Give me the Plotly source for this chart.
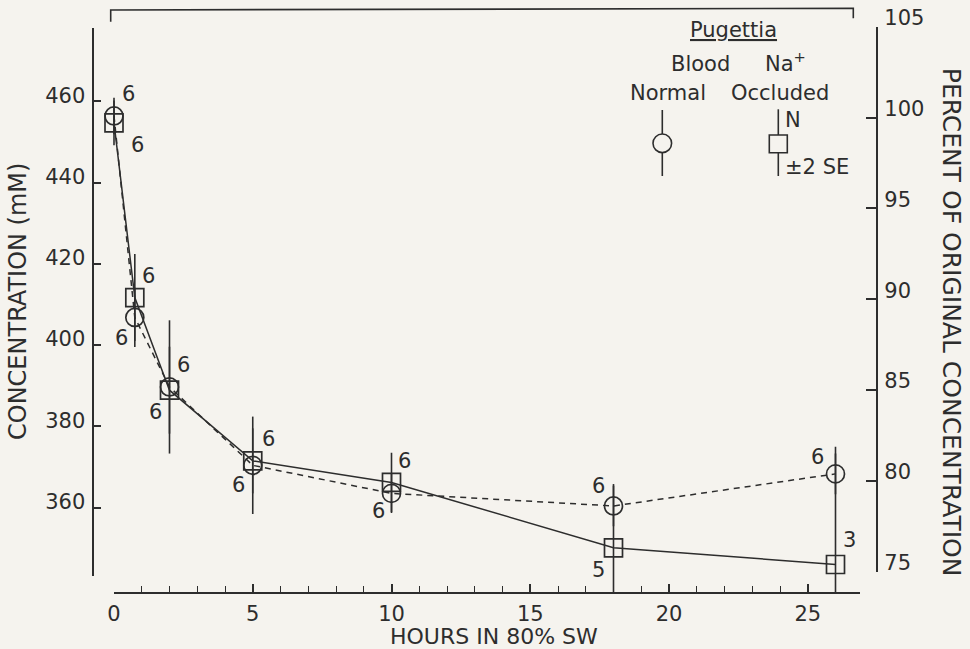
import plotly.graph_objects as go

W, H = 970, 649

# Blood Na+ of Pugettia held in 80% sea water (mean, +/-2 SE, N)
hours = [0, 0.75, 2, 5, 10, 18, 26]
normal_na = [456.4, 406.8, 389.7, 370.4, 363.5, 360.4, 368.3]
normal_2se = [4.5, 7.3, 16.4, 12.0, 4.8, 5.0, 5.0]
normal_n = [6, 6, 6, 6, 6, 6, 6]
occluded_na = [454.7, 411.7, 388.9, 371.5, 366.2, 350.1, 346.0]
occluded_2se = [5.5, 10.7, 10.7, 8.0, 7.3, 15.7, 29.0]
occluded_n = [6, 6, 6, 6, 6, 5, 3]

hour_ticks = [0, 5, 10, 15, 20, 25]
conc_ticks = [360, 380, 400, 420, 440, 460]
pct_ticks = [75, 80, 85, 90, 95, 100, 105]

# pixel offsets of the N labels from their markers
normal_dx = [14, -13, -14, -14, -13, -15, -18]
normal_dy = [22, -21, -25, -20, -18, 20, 17]
occluded_dx = [23, 14, 14, 16, 13, -15, 14]
occluded_dy = [-22, 22, 25, 22, 21, -22, 24]

INK = "#2d2d2d"
PAPER = "#f5f3ee"
FONT = "DejaVu Sans"


def fx(px):
    return px / W


def fy(py):
    return 1 - py / H


# frame geometry in pixels
HOUR_X0, HOUR_PX, HOUR_END = 114.0, 27.75, 26.9
CONC_Y460, CONC_PX = 101.3, 4.063
AX_TOP = 27.7
X_AXIS_Y = 593.3
LEFT_AXIS_X, LEFT_AXIS_BOT = 93.3, 576.0
RIGHT_AXIS_X, RIGHT_TOP, RIGHT_BOT = 877.3, 26.7, 571.7
DATA_LEFT = 95.0
X_RIGHT = HOUR_X0 + HOUR_END * HOUR_PX


def conc_at(py):
    return 460 - (py - CONC_Y460) / CONC_PX


def hour_at(px):
    return (px - HOUR_X0) / HOUR_PX


fig = go.Figure()

fig.add_trace(go.Scatter(
    x=hours, y=normal_na, mode="lines+markers", name="Normal",
    line=dict(color=INK, width=1.5, dash="6px,5px"),
    marker=dict(symbol="circle-open", size=18, color=INK, line=dict(width=1.7, color=INK)),
    error_y=dict(type="data", array=normal_2se, visible=True, color=INK, thickness=1.6, width=0),
    hoverinfo="skip", showlegend=False,
))
fig.add_trace(go.Scatter(
    x=hours, y=occluded_na, mode="lines+markers", name="Occluded",
    line=dict(color=INK, width=1.5),
    marker=dict(symbol="square-open", size=18, color=INK, line=dict(width=1.7, color=INK)),
    error_y=dict(type="data", array=occluded_2se, visible=True, color=INK, thickness=1.6, width=0),
    hoverinfo="skip", showlegend=False,
))

# empty traces so the drawn axes get their own subplots
for xa, ya in [("x2", "y"), ("x", "y2"), ("x", "y3")]:
    fig.add_trace(go.Scatter(x=[], y=[], xaxis=xa, yaxis=ya, mode="markers",
                             hoverinfo="skip", showlegend=False))

tick_font = dict(family=FONT, size=21, color=INK)
annotations = []

# sample sizes next to each point
for xs, ys, ns, dxs, dys in [
    (hours, normal_na, normal_n, normal_dx, normal_dy),
    (hours, occluded_na, occluded_n, occluded_dx, occluded_dy),
]:
    for h, v, n, dx, dy in zip(xs, ys, ns, dxs, dys):
        annotations.append(dict(
            x=h, y=v, xref="x", yref="y", text=str(n), showarrow=False,
            xshift=dx, yshift=dy, xanchor="center", yanchor="middle",
            font=dict(family=FONT, size=21, color=INK),
        ))


def paper_text(text, px, py, size=21, xanchor="center", angle=0):
    annotations.append(dict(
        x=fx(px), y=fy(py), xref="paper", yref="paper", text=text,
        showarrow=False, xanchor=xanchor, yanchor="middle", textangle=angle,
        font=dict(family=FONT, size=size, color=INK),
    ))


# axis titles
paper_text("CONCENTRATION (mM)", 17.5, 301.5, size=24, angle=-90)
paper_text("PERCENT OF ORIGINAL CONCENTRATION", 951.7, 322.5, size=25, angle=90)
paper_text("HOURS IN 80% SW", 494, 636, size=22)

# key
paper_text("<u>Pugettia</u>", 733.5, 30)
paper_text("Blood", 700.7, 64)
paper_text("Na<sup>+</sup>", 763.3, 62, xanchor="left")
paper_text("Normal", 708.3, 92.7, xanchor="right")
paper_text("Occluded", 729.3, 92.7, xanchor="left")
paper_text("N", 783.3, 120, xanchor="left")
paper_text("±2 SE", 783.3, 166.7, xanchor="left")

line_style = dict(color=INK, width=1.6)
shapes = [
    # open frame across the top
    dict(type="path", xref="paper", yref="paper", line=line_style,
         path=f"M {fx(110.7)},{fy(21.7)} L {fx(110.7)},{fy(10)} "
              f"L {fx(853.3)},{fy(8.3)} L {fx(853.3)},{fy(18.3)}"),
    # key: circle with its bar
    dict(type="circle", xref="paper", yref="paper", line=line_style,
         x0=fx(662.3 - 9.3), x1=fx(662.3 + 9.3), y0=fy(143.3 + 9.3), y1=fy(143.3 - 9.3)),
    dict(type="line", xref="paper", yref="paper", line=line_style,
         x0=fx(662.3), x1=fx(662.3), y0=fy(110), y1=fy(134)),
    dict(type="line", xref="paper", yref="paper", line=line_style,
         x0=fx(662.3), x1=fx(662.3), y0=fy(152.6), y1=fy(176)),
    # key: square with its bar
    dict(type="rect", xref="paper", yref="paper", line=line_style,
         x0=fx(769.3), x1=fx(787.3), y0=fy(152.7), y1=fy(135)),
    dict(type="line", xref="paper", yref="paper", line=line_style,
         x0=fx(778.3), x1=fx(778.3), y0=fy(109.3), y1=fy(135)),
    dict(type="line", xref="paper", yref="paper", line=line_style,
         x0=fx(778.3), x1=fx(778.3), y0=fy(152.7), y1=fy(176)),
]

axis_common = dict(showgrid=False, zeroline=False, showline=True, linecolor=INK,
                   linewidth=1.6, ticks="inside", tickcolor=INK, tickwidth=1.5,
                   tickfont=tick_font, automargin=False, fixedrange=True)

minor_hours = [h for h in range(1, 27) if h % 5]
conc_lo, conc_hi = conc_at(LEFT_AXIS_BOT), conc_at(AX_TOP)

fig.update_layout(
    width=W, height=H, template="none",
    margin=dict(l=0, r=0, t=0, b=0, pad=0),
    paper_bgcolor=PAPER, plot_bgcolor="rgba(0,0,0,0)",
    showlegend=False, font=dict(family=FONT, color=INK),
    # data axes (carry the marks, not drawn)
    xaxis=dict(domain=[fx(DATA_LEFT), fx(X_RIGHT)],
               range=[hour_at(DATA_LEFT), HOUR_END], visible=False, fixedrange=True),
    yaxis=dict(domain=[fy(X_AXIS_Y), fy(AX_TOP)],
               range=[conc_at(X_AXIS_Y), conc_at(AX_TOP)], visible=False, fixedrange=True),
    # drawn hour axis
    xaxis2=dict(domain=[fx(HOUR_X0), fx(X_RIGHT)], range=[0, HOUR_END],
                anchor="free", position=fy(X_AXIS_Y), side="bottom",
                tickmode="array", tickvals=hour_ticks + [HOUR_END],
                ticktext=[str(t) for t in hour_ticks] + [""], ticklen=9,
                ticklabelstandoff=2,
                minor=dict(tickmode="array", tickvals=minor_hours, ticks="inside",
                           ticklen=7, tickcolor=INK, tickwidth=1.3, showgrid=False),
                **axis_common),
    # drawn concentration axis
    yaxis3=dict(domain=[fy(LEFT_AXIS_BOT), fy(AX_TOP)], range=[conc_lo, conc_hi],
                anchor="free", position=fx(LEFT_AXIS_X), side="left",
                tickmode="array", tickvals=conc_ticks, ticklen=7,
                ticklabelshift=-6, ticklabelstandoff=3,
                minor=dict(tickmode="array", tickvals=[conc_lo + 0.02, conc_hi - 0.02],
                           ticks="inside", ticklen=11, tickcolor=INK, tickwidth=1.5,
                           showgrid=False),
                **axis_common),
    # drawn percent axis
    yaxis2=dict(domain=[fy(RIGHT_BOT), fy(RIGHT_TOP)], range=[75, 105],
                anchor="free", position=fx(RIGHT_AXIS_X), side="right",
                tickmode="array", tickvals=pct_ticks, ticklen=11,
                ticklabelshift=-9, ticklabelstandoff=2,
                **axis_common),
    annotations=annotations,
    shapes=shapes,
)

fig.write_html("out.html")
